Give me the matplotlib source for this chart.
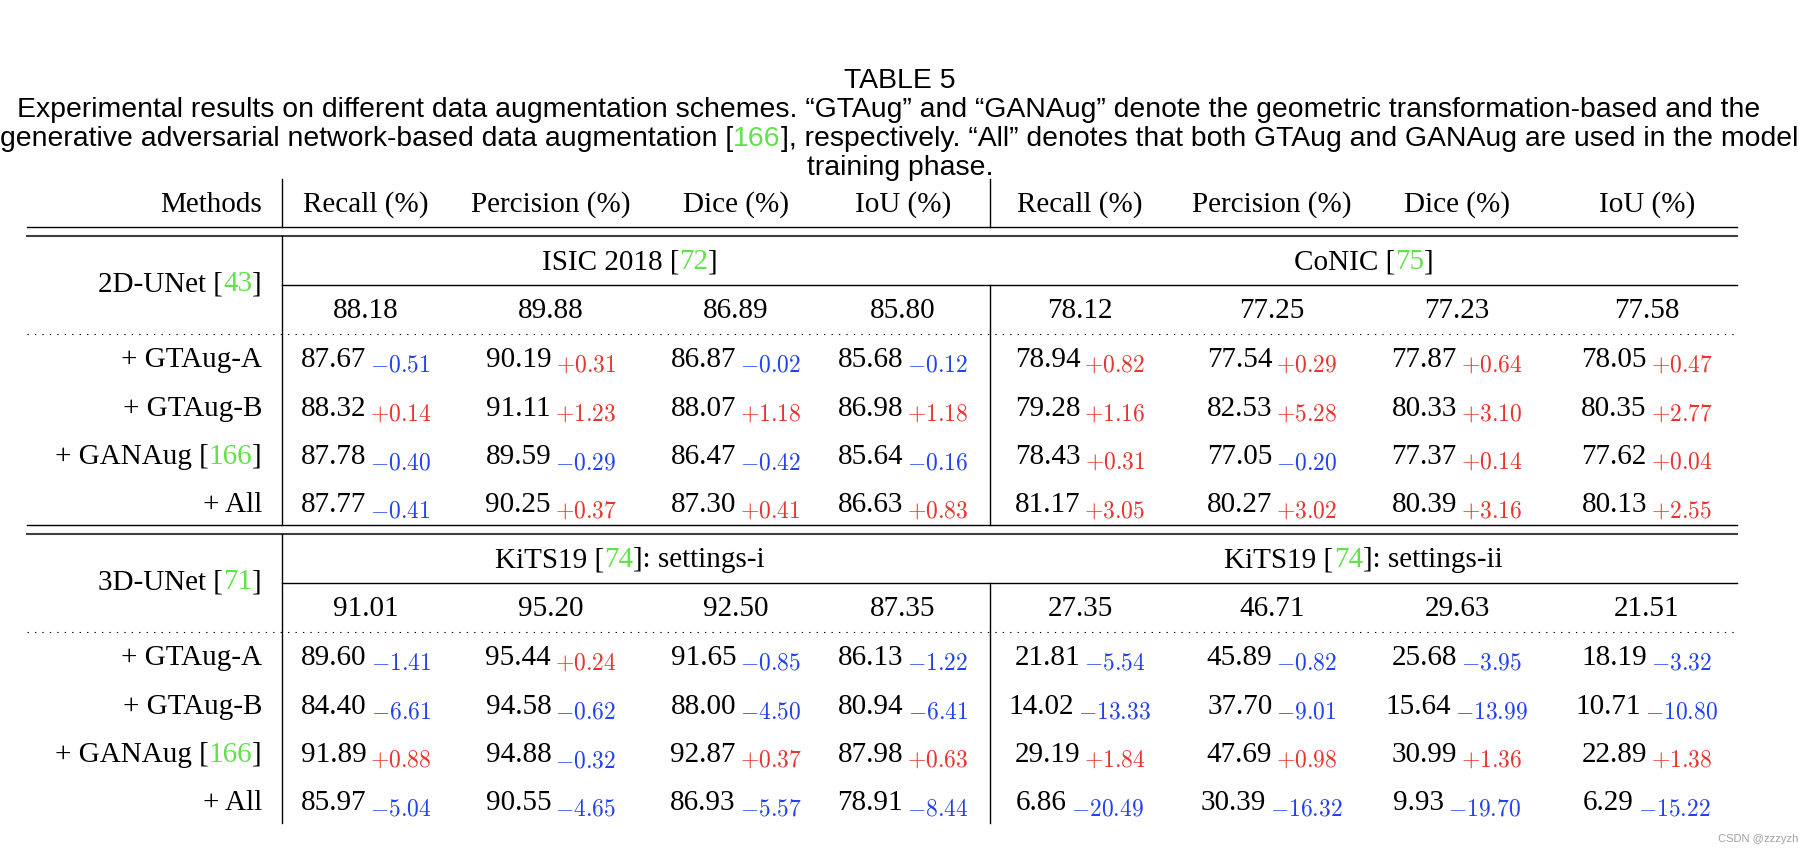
import matplotlib
matplotlib.use('Agg')
import matplotlib.pyplot as plt

plt.rcParams['mathtext.fontset'] = 'cm'

# table content
metrics = ['Recall (%)', 'Percision (%)', 'Dice (%)', 'IoU (%)']
variants = ['+ GTAug-A', '+ GTAug-B', '+ GANAug [166]', '+ All']

isic_base = [88.18, 89.88, 86.89, 85.80]
conic_base = [78.12, 77.25, 77.23, 77.58]
unet2d_vals = [
    [87.67, 90.19, 86.87, 85.68, 78.94, 77.54, 77.87, 78.05],
    [88.32, 91.11, 88.07, 86.98, 79.28, 82.53, 80.33, 80.35],
    [87.78, 89.59, 86.47, 85.64, 78.43, 77.05, 77.37, 77.62],
    [87.77, 90.25, 87.30, 86.63, 81.17, 80.27, 80.39, 80.13],
]
unet2d_delta = [
    [-0.51, 0.31, -0.02, -0.12, 0.82, 0.29, 0.64, 0.47],
    [0.14, 1.23, 1.18, 1.18, 1.16, 5.28, 3.10, 2.77],
    [-0.40, -0.29, -0.42, -0.16, 0.31, -0.20, 0.14, 0.04],
    [-0.41, 0.37, 0.41, 0.83, 3.05, 3.02, 3.16, 2.55],
]

kits_i_base = [91.01, 95.20, 92.50, 87.35]
kits_ii_base = [27.35, 46.71, 29.63, 21.51]
unet3d_vals = [
    [89.60, 95.44, 91.65, 86.13, 21.81, 45.89, 25.68, 18.19],
    [84.40, 94.58, 88.00, 80.94, 14.02, 37.70, 15.64, 10.71],
    [91.89, 94.88, 92.87, 87.98, 29.19, 47.69, 30.99, 22.89],
    [85.97, 90.55, 86.93, 78.91, 6.86, 30.39, 9.93, 6.29],
]
unet3d_delta = [
    [-1.41, 0.24, -0.85, -1.22, -5.54, -0.82, -3.95, -3.32],
    [-6.61, -0.62, -4.50, -6.41, -13.33, -9.01, -13.99, -10.80],
    [0.88, -0.32, 0.37, 0.63, 1.84, 0.98, 1.36, 1.38],
    [-5.04, -4.65, -5.57, -8.44, -20.49, -16.32, -19.70, -15.22],
]

GREEN = '#62e24a'
RED = '#e8342c'
BLUE = '#2042f0'
SERIF = 'Liberation Serif'
SANS = 'Liberation Sans'
FS = 21
SUB_FS = 17

fig = plt.figure(figsize=(18.04, 8.52), dpi=100)
ax = fig.add_axes([0, 0, 1, 1])
ax.set_xlim(0, 1804)
ax.set_ylim(852, 0)
ax.axis('off')
r = fig.canvas.get_renderer()


def put(x, y, parts, ha='center', size=FS, family=SERIF):
    # draw multi-colour text pieces side by side
    objs = []
    for s, c in parts:
        objs.append(ax.text(0, y, s, color=c, fontsize=size, family=family, va='baseline'))
    w = [o.get_window_extent(r).width for o in objs]
    tot = sum(w)
    x0 = x - tot if ha == 'right' else (x - tot / 2 if ha == 'center' else x)
    for o, wi in zip(objs, w):
        o.set_x(x0)
        x0 += wi


def cell(x, y, v, d):
    m = ax.text(0, y, '%.2f' % v, fontsize=FS, family=SERIF, va='baseline')
    sign = '+' if d >= 0 else '-'
    s = ax.text(0, y + 5, r'$%s%.2f$' % (sign, abs(d)), fontsize=SUB_FS,
                color=RED if d >= 0 else BLUE, va='baseline')
    w1 = m.get_window_extent(r).width
    w2 = s.get_window_extent(r).width
    x0 = x - (w1 + 4 + w2) / 2
    m.set_x(x0)
    s.set_x(x0 + w1 + 4)


def label(text):
    # split "[ref]" so the number is green
    if '[' in text:
        a, rest = text.split('[')
        n, tail = rest.split(']')
        return [(a + '[', 'black'), (n, GREEN), (']' + tail, 'black')]
    return [(text, 'black')]


# caption
cap_fs = 20.4
put(900, 88, [('TABLE 5', 'black')], size=cap_fs, family=SANS)
put(889, 117, [('Experimental results on different data augmentation schemes. \u201cGTAug\u201d and \u201cGANAug\u201d denote the geometric transformation-based and the', 'black')], size=cap_fs, family=SANS)
put(899, 146, [('generative adversarial network-based data augmentation [', 'black'), ('166', GREEN),
               ('], respectively. \u201cAll\u201d denotes that both GTAug and GANAug are used in the model', 'black')],
    size=cap_fs, family=SANS)
put(900, 175, [('training phase.', 'black')], size=cap_fs, family=SANS)

# columns
col_x = [366, 551, 736, 903, 1080, 1272, 1457, 1647]
x_lab = 262
x_left, x_right = 27, 1737
v1, v2 = 282, 990

# header
put(x_lab, 212, [('Methods', 'black')], ha='right')
for i, cx in enumerate(col_x):
    put(cx, 212, [(metrics[i % 4], 'black')])
ax.plot([v1, v1], [179, 227], color='black', lw=1)
ax.plot([v2, v2], [179, 227], color='black', lw=1)

blocks = [
    (227, '2D-UNet [43]', ['ISIC 2018 [72]', 'CoNIC [75]'], isic_base + conic_base, unet2d_vals, unet2d_delta),
    (525, '3D-UNet [71]', ['KiTS19 [74]: settings-i', 'KiTS19 [74]: settings-ii'], kits_i_base + kits_ii_base, unet3d_vals, unet3d_delta),
]

for top, model, dsets, base, vals, delta in blocks:
    # double rule
    ax.plot([x_left, x_right], [top, top], color='black', lw=1)
    ax.plot([x_left, x_right], [top + 8.5, top + 8.5], color='#404040', lw=1.5)
    y_ds = top + 33 + 9
    y_line = top + 58
    y_base = top + 82 + 9
    y_dot = top + 107
    # dataset names
    put((v1 + v2) / 2 - 6, y_ds, label(dsets[0]))
    put((v2 + x_right) / 2, y_ds, label(dsets[1]))
    ax.plot([v1, x_right], [y_line, y_line], color='black', lw=1)
    put(x_lab, top + 55 + 9, label(model), ha='right')
    for i, cx in enumerate(col_x):
        put(cx, y_base, [('%.2f' % base[i], 'black')])
    ax.plot([x_left, x_right], [y_dot, y_dot], color='black', lw=0.8, linestyle=(0, (1.2, 5.5)))
    for j, name in enumerate(variants):
        yr = top + 131 + 48.5 * j + 9
        put(x_lab, yr, label(name), ha='right')
        for i, cx in enumerate(col_x):
            cell(cx, yr, vals[j][i], delta[j][i])
    bottom = top + 298
    ax.plot([v1, v1], [top + 9, bottom], color='black', lw=1)
    ax.plot([v2, v2], [y_line, bottom], color='black', lw=1)

ax.text(1798, 842, 'CSDN @zzzyzh', fontsize=8, color='#a0a0a0', family=SANS, ha='right', va='baseline')

fig.savefig('out.png', dpi=100)
